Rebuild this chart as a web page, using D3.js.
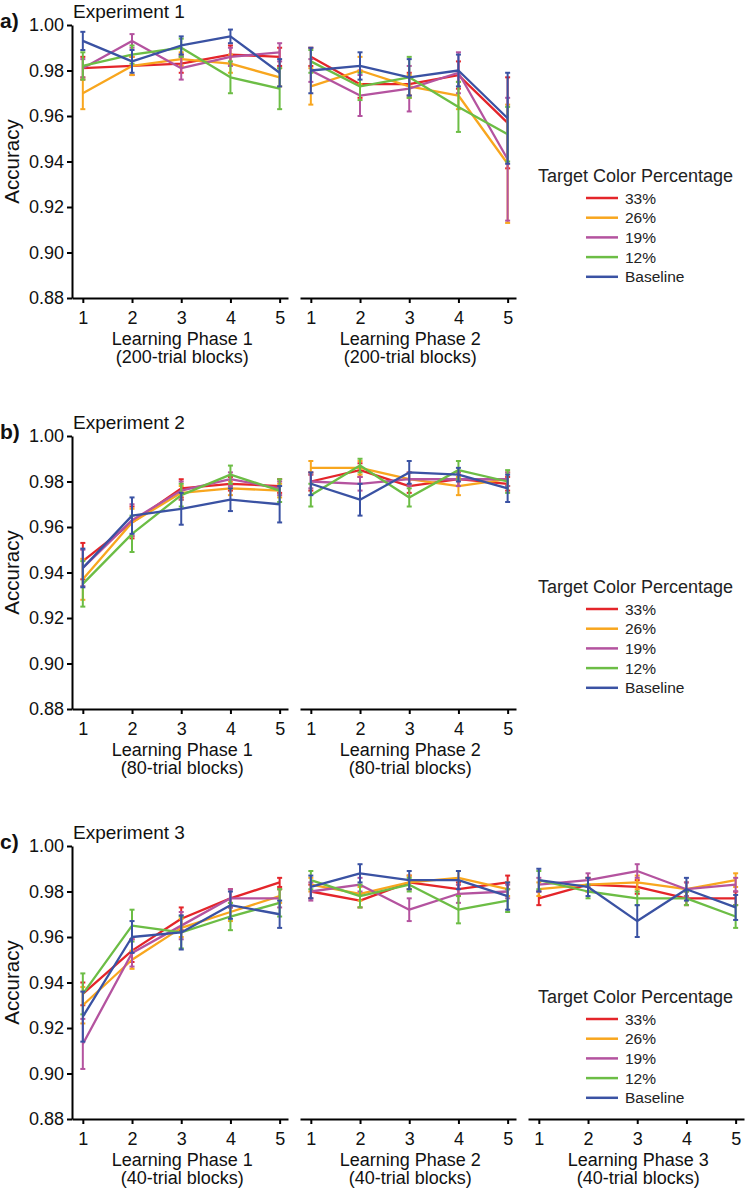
<!DOCTYPE html>
<html>
<head>
<meta charset="utf-8">
<script src="https://cdn.jsdelivr.net/npm/d3@7"></script>
<style>
  html, body { margin: 0; padding: 0; background: #fff; }
  svg { display: block; font-family: "Liberation Sans", Arial, Helvetica, sans-serif; }
</style>
</head>
<body>
<div id="chart"></div>
<script>
// ---------------- DATA ----------------
const seriesNames = ["33%", "26%", "19%", "12%", "Baseline"];
const seriesColors = ["#e4252a", "#f8a61e", "#b4539f", "#6cbd45", "#3a52a3"];
const blocks = [1, 2, 3, 4, 5];
const yTickValues = [0.88, 0.90, 0.92, 0.94, 0.96, 0.98, 1.00];
const experimentTitles = ["Experiment 1", "Experiment 2", "Experiment 3"];
const panelLetters = ["a)", "b)", "c)"];
const phaseNames = ["Learning Phase 1", "Learning Phase 2", "Learning Phase 3"];
const blockSizeLabels = ["(200-trial blocks)", "(80-trial blocks)", "(40-trial blocks)"];

// Experiment 1
const e1p1Mean = [
  [0.981, 0.982, 0.983, 0.987, 0.986],
  [0.970, 0.982, 0.985, 0.983, 0.977],
  [0.981, 0.993, 0.981, 0.986, 0.988],
  [0.982, 0.987, 0.990, 0.977, 0.972],
  [0.993, 0.984, 0.991, 0.995, 0.979]
];
const e1p1Err = [
  [0.005, 0.004, 0.004, 0.004, 0.004],
  [0.007, 0.004, 0.003, 0.004, 0.004],
  [0.004, 0.003, 0.005, 0.004, 0.004],
  [0.006, 0.004, 0.004, 0.007, 0.009],
  [0.004, 0.005, 0.004, 0.003, 0.006]
];
const e1p2Mean = [
  [0.986, 0.974, 0.974, 0.978, 0.957],
  [0.973, 0.980, 0.973, 0.969, 0.939],
  [0.980, 0.969, 0.972, 0.979, 0.941],
  [0.984, 0.973, 0.977, 0.964, 0.952],
  [0.980, 0.982, 0.977, 0.980, 0.959]
];
const e1p2Err = [
  [0.004, 0.006, 0.005, 0.006, 0.020],
  [0.008, 0.006, 0.005, 0.006, 0.026],
  [0.005, 0.009, 0.010, 0.009, 0.027],
  [0.005, 0.006, 0.009, 0.011, 0.012],
  [0.010, 0.006, 0.008, 0.007, 0.020]
];
// Experiment 2
const e2p1Mean = [
  [0.945, 0.962, 0.977, 0.979, 0.978],
  [0.937, 0.962, 0.975, 0.977, 0.976],
  [0.942, 0.963, 0.976, 0.981, 0.977],
  [0.935, 0.957, 0.974, 0.983, 0.976],
  [0.942, 0.965, 0.968, 0.972, 0.970]
];
const e2p1Err = [
  [0.008, 0.007, 0.004, 0.003, 0.003],
  [0.009, 0.006, 0.003, 0.003, 0.003],
  [0.008, 0.007, 0.004, 0.003, 0.003],
  [0.010, 0.008, 0.005, 0.004, 0.005],
  [0.0085, 0.008, 0.007, 0.005, 0.008]
];
const e2p2Mean = [
  [0.980, 0.985, 0.978, 0.981, 0.979],
  [0.986, 0.986, 0.981, 0.978, 0.981],
  [0.980, 0.979, 0.981, 0.981, 0.981],
  [0.974, 0.987, 0.973, 0.985, 0.980],
  [0.979, 0.972, 0.984, 0.983, 0.977]
];
const e2p2Err = [
  [0.004, 0.003, 0.003, 0.003, 0.003],
  [0.003, 0.003, 0.003, 0.004, 0.003],
  [0.003, 0.003, 0.003, 0.003, 0.003],
  [0.005, 0.003, 0.004, 0.004, 0.005],
  [0.005, 0.007, 0.005, 0.003, 0.006]
];
// Experiment 3
const e3p1Mean = [
  [0.935, 0.954, 0.968, 0.977, 0.984],
  [0.930, 0.950, 0.964, 0.971, 0.978],
  [0.913, 0.953, 0.965, 0.977, 0.977],
  [0.935, 0.965, 0.962, 0.969, 0.975],
  [0.925, 0.960, 0.962, 0.974, 0.970]
];
const e3p1Err = [
  [0.005, 0.005, 0.005, 0.004, 0.002],
  [0.008, 0.004, 0.004, 0.004, 0.003],
  [0.011, 0.006, 0.006, 0.004, 0.004],
  [0.009, 0.007, 0.007, 0.006, 0.006],
  [0.011, 0.007, 0.0075, 0.006, 0.006]
];
const e3p2Mean = [
  [0.980, 0.976, 0.984, 0.981, 0.984],
  [0.983, 0.979, 0.984, 0.986, 0.981],
  [0.980, 0.983, 0.972, 0.979, 0.980],
  [0.985, 0.978, 0.983, 0.972, 0.976],
  [0.982, 0.988, 0.985, 0.985, 0.978]
];
const e3p2Err = [
  [0.003, 0.003, 0.003, 0.003, 0.003],
  [0.003, 0.003, 0.003, 0.003, 0.003],
  [0.004, 0.003, 0.005, 0.004, 0.003],
  [0.004, 0.005, 0.003, 0.006, 0.005],
  [0.005, 0.004, 0.004, 0.004, 0.006]
];
const e3p3Mean = [
  [0.977, 0.983, 0.982, 0.977, 0.977],
  [0.981, 0.983, 0.984, 0.981, 0.985],
  [0.983, 0.985, 0.989, 0.981, 0.983],
  [0.985, 0.980, 0.977, 0.977, 0.969],
  [0.985, 0.982, 0.967, 0.981, 0.973]
];
const e3p3Err = [
  [0.003, 0.003, 0.003, 0.003, 0.003],
  [0.003, 0.003, 0.003, 0.003, 0.003],
  [0.003, 0.003, 0.003, 0.003, 0.003],
  [0.004, 0.003, 0.003, 0.003, 0.005],
  [0.005, 0.004, 0.007, 0.005, 0.0055]
];

// ---------------- LAYOUT ----------------
const W = 750, H = 1191;
const panelTops = [25, 436, 846];
const plotH = 273;
const phaseX0 = [72, 300, 528];
const phaseW = 216;
const panels = [
  { phases: [[e1p1Mean, e1p1Err], [e1p2Mean, e1p2Err]] },
  { phases: [[e2p1Mean, e2p1Err], [e2p2Mean, e2p2Err]] },
  { phases: [[e3p1Mean, e3p1Err], [e3p2Mean, e3p2Err], [e3p3Mean, e3p3Err]] }
];

const svg = d3.select("#chart").append("svg")
  .attr("width", W).attr("height", H);

panels.forEach((panel, pi) => {
  const top = panelTops[pi];
  const g = svg.append("g");
  const y = d3.scaleLinear().domain([0.88, 1.00]).range([top + plotH, top]);

  // panel letter and title
  g.append("text").attr("x", 0).attr("y", top + 3)
    .attr("font-size", 21).attr("font-weight", "bold").attr("fill", "#111")
    .text(panelLetters[pi]);
  g.append("text").attr("x", 73).attr("y", top - 7)
    .attr("font-size", 19).attr("fill", "#111")
    .text(experimentTitles[pi]);

  // y axis
  const yAxis = d3.axisLeft(y).tickValues(yTickValues)
    .tickFormat(d3.format(".2f")).tickSize(5).tickPadding(3).tickSizeOuter(0);
  const ya = g.append("g").attr("transform", `translate(${phaseX0[0]},0)`).call(yAxis);
  ya.select(".domain").attr("stroke", "#000").attr("stroke-width", 2);
  ya.selectAll(".tick line").attr("stroke", "#000").attr("stroke-width", 2);
  ya.selectAll(".tick text").attr("font-size", 18).attr("fill", "#111")
    .attr("font-family", "Liberation Sans, Arial, sans-serif");

  g.append("text")
    .attr("transform", `translate(19,${top + plotH / 2}) rotate(-90)`)
    .attr("text-anchor", "middle").attr("font-size", 20.5).attr("fill", "#111")
    .text("Accuracy");

  panel.phases.forEach((ph, k) => {
    const [means, errs] = ph;
    const x0 = phaseX0[k];
    const x = d3.scaleLinear().domain([0.78, 5.17]).range([x0, x0 + phaseW]);
    const xAxis = d3.axisBottom(x).tickValues(blocks).tickFormat(d3.format("d"))
      .tickSize(5).tickPadding(8).tickSizeOuter(0);
    const xa = g.append("g").attr("transform", `translate(0,${top + plotH})`).call(xAxis);
    xa.select(".domain").attr("stroke", "#000").attr("stroke-width", 2);
    xa.selectAll(".tick line").attr("stroke", "#000").attr("stroke-width", 2);
    xa.selectAll(".tick text").attr("font-size", 18).attr("fill", "#111")
      .attr("font-family", "Liberation Sans, Arial, sans-serif");

    const cx = x(3) + 1;
    g.append("text").attr("x", cx).attr("y", top + plotH + 47)
      .attr("text-anchor", "middle").attr("font-size", 18).attr("fill", "#111")
      .text(phaseNames[k]);
    g.append("text").attr("x", cx).attr("y", top + plotH + 65)
      .attr("text-anchor", "middle").attr("font-size", 18).attr("fill", "#111")
      .text(blockSizeLabels[pi]);

    const line = d3.line().x((d, i) => x(blocks[i])).y(d => y(d));

    means.forEach((m, s) => {
      const col = seriesColors[s];
      const sg = g.append("g");
      // error bars
      m.forEach((v, i) => {
        const e = errs[s][i];
        const xx = x(blocks[i]);
        sg.append("line").attr("x1", xx).attr("x2", xx)
          .attr("y1", y(v - e)).attr("y2", y(v + e))
          .attr("stroke", col).attr("stroke-width", 2);
        [v - e, v + e].forEach(c => {
          sg.append("line").attr("x1", xx - 2.5).attr("x2", xx + 2.5)
            .attr("y1", y(c)).attr("y2", y(c))
            .attr("stroke", col).attr("stroke-width", 2);
        });
      });
      sg.append("path").datum(m).attr("d", line)
        .attr("fill", "none").attr("stroke", col)
        .attr("stroke-width", 2.3).attr("stroke-linejoin", "round");
    });
  });

  // legend
  const lg = g.append("g");
  lg.append("text").attr("x", 538).attr("y", top + 157)
    .attr("font-size", 18).attr("fill", "#222")
    .text("Target Color Percentage");
  seriesNames.forEach((n, s) => {
    const yy = top + 173 + s * 19.7;
    lg.append("line").attr("x1", 586).attr("x2", 618)
      .attr("y1", yy).attr("y2", yy)
      .attr("stroke", seriesColors[s]).attr("stroke-width", 2.5);
    lg.append("text").attr("x", 625).attr("y", yy).attr("dy", "0.36em")
      .attr("font-size", 15.5).attr("fill", "#222").text(n);
  });
});
</script>
</body>
</html>
